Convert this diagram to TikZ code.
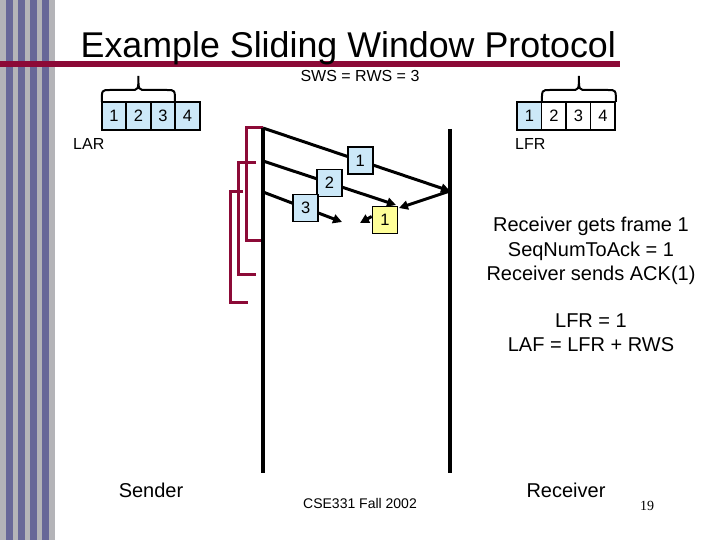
\documentclass[tikz,border=0pt]{standalone}
\usepackage{fontspec}
\setmainfont{Liberation Sans}
\newfontfamily\pagenumfont{Liberation Serif}
\usetikzlibrary{arrows.meta,positioning}

\definecolor{slidered}{RGB}{140,10,55}
\definecolor{stripegrey}{RGB}{180,180,184}
\definecolor{stripeblue}{RGB}{104,104,152}
\definecolor{winblue}{RGB}{204,232,248}
\definecolor{ackyellow}{RGB}{255,255,153}

\begin{document}
\begin{tikzpicture}[x=1pt,y=-1pt,
    >={Triangle[length=9pt,width=9pt]},
    winbox/.style={draw,line width=1.6pt,minimum width=24.5pt,minimum height=28pt,
      inner sep=0pt,outer sep=0pt,font=\fontsize{16.5}{18}\selectfont},
    pktbox/.style={draw,line width=1.6pt,fill=winblue,minimum width=25pt,
      minimum height=27pt,inner sep=0pt,font=\fontsize{16.5}{18}\selectfont},
    timeline/.style={line width=3.2pt},
    pkt/.style={line width=3pt},
    timer/.style={slidered,line width=3pt},
    winbrace/.style={line width=2pt},
    winlabel/.style={font=\fontsize{16}{18}\selectfont,inner sep=0pt,anchor=base west},
    note/.style={font=\fontsize{20}{24}\selectfont,inner sep=0pt,anchor=base}
    ]

    \useasboundingbox (0,0) rectangle (720,540);
    \fill[white] (0,0) rectangle (720,540);

    % side stripes and title bar
    \fill[stripegrey] (0,0) rectangle (55,540);
    \foreach \x in {6,18,30,42}
      \fill[stripeblue] (\x,0) rectangle ++(7,540);
    \fill[slidered] (0,61) rectangle (620,67);

    \node (title) [anchor=base west,inner sep=0pt,font=\fontsize{35.8}{40}\selectfont]
      at (80.5,57.3) {Example Sliding Window Protocol};
    \node (sws) [note,font=\fontsize{16}{18}\selectfont] at (360,82) {SWS = RWS = 3};

    % sender window
    \node (l1) [winbox,fill=winblue] at (114,116) {1};
    \foreach \i [count=\j] in {2,3,4}
      \node (l\i) [winbox,fill=winblue,right=0pt of l\j] {\i};
    \draw[winbrace] (101.8,102) .. controls (101.8,90) .. (109.8,90) -- (130.4,90)
      .. controls (138.4,90) .. (138.4,76) .. controls (138.4,90) .. (146.4,90)
      -- (167,90) .. controls (175,90) .. (175,102);
    \node (lar) [winlabel] at (73,150) {LAR};

    % receiver window
    \node (r1) [winbox,fill=winblue] at (529.4,116) {1};
    \foreach \i [count=\j] in {2,3,4}
      \node (r\i) [winbox,right=0pt of r\j] {\i};
    \draw[winbrace] (541.9,102) .. controls (541.9,90) .. (549.9,90) -- (570.9,90)
      .. controls (578.9,90) .. (578.9,76) .. controls (578.9,90) .. (586.9,90)
      -- (607.9,90) .. controls (615.9,90) .. (615.9,102);
    \node (lfr) [winlabel] at (515,150) {LFR};

    % time lines
    \coordinate (snd0) at (263,128);
    \coordinate (snd1) at (263,161);
    \coordinate (snd2) at (263,192);
    \coordinate (sndEnd) at (263,473);
    \coordinate (rcv0) at (450,129);
    \coordinate (rcv1) at (450,191);
    \coordinate (rcvEnd) at (450,473);

    % timers
    \draw[timer] (snd0) -- (246,128) -- (246,240) -- (263,240);
    \draw[timer] (256,163) -- (238,163) -- (238,274) -- (256,274);
    \draw[timer] (243,192) -- (230,192) -- (230,302) -- (248,302);

    \draw[timeline] (snd0) -- (sndEnd);
    \draw[timeline] (rcv0) -- (rcvEnd);

    % frames in flight
    \coordinate (hit2) at (396,205);
    \coordinate (hit3) at (342,222);
    \draw[pkt,->] (snd0) -- node[pktbox,pos=0.52] (p1) {1} (rcv1);
    \draw[pkt,->] (snd1) -- node[pktbox,pos=0.5] (p2) {2} (hit2);
    \draw[pkt,->] (snd2) -- node[pktbox,pos=0.54] (p3) {3} (hit3);

    % ack
    \node (ack) [pktbox,fill=ackyellow] at (385,220) {1};
    \coordinate (ack1) at (399,208);
    \coordinate (ack2) at (360,223);
    \draw[pkt,->] (rcv1) -- (ack1);
    \draw[pkt,->] (ack.165) -- (ack2);

    % notes
    \node (n1) [note] at (591,232) {Receiver gets frame 1};
    \node (n2) [note] at (591,256) {SeqNumToAck = 1};
    \node (n3) [note] at (591,280) {Receiver sends ACK(1)};
    \node (n4) [note] at (591,327) {LFR = 1};
    \node (n5) [note] at (591,351) {LAF = LFR + RWS};

    \node (sender) [note] at (151,497) {Sender};
    \node (receiver) [note] at (566,497) {Receiver};
    \node (course) [note,font=\fontsize{14}{16}\selectfont] at (360,508) {CSE331 Fall 2002};
    \node (pagenum) [note,font=\pagenumfont\fontsize{14}{16}\selectfont] at (647,510) {19};

\end{tikzpicture}
\end{document}
